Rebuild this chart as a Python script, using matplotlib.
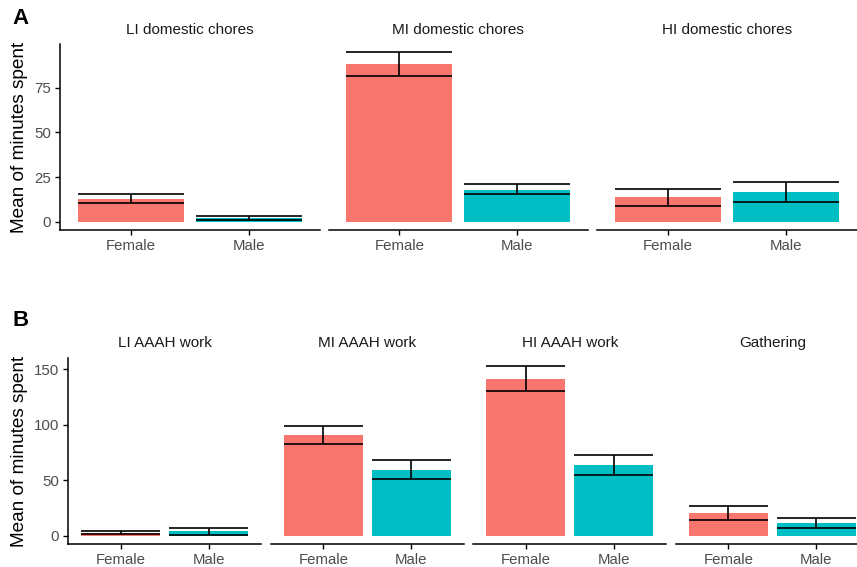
import matplotlib
matplotlib.use("Agg")
import matplotlib.pyplot as plt

plt.rcParams['font.family'] = ['Liberation Sans', 'DejaVu Sans']

sexes = ["Female", "Male"]
colors = ["#F8766D", "#00BFC4"]

# Panel A
a_titles = ["LI domestic chores", "MI domestic chores", "HI domestic chores"]
a_mean = [[12.9, 2.0], [88.2, 17.9], [13.6, 16.4]]
a_low = [[10.6, 0.8], [81.7, 15.5], [9.0, 11.0]]
a_high = [[15.7, 3.0], [94.9, 21.0], [18.2, 22.0]]
a_ticks = [0, 25, 50, 75]

# Panel B
b_titles = ["LI AAAH work", "MI AAAH work", "HI AAAH work", "Gathering"]
b_mean = [[2.5, 3.9], [90.7, 59.3], [141.1, 63.8], [20.3, 11.3]]
b_low = [[1.0, 0.9], [82.6, 50.9], [129.9, 54.8], [14.4, 6.8]]
b_high = [[4.0, 7.2], [98.8, 67.7], [152.4, 73.0], [26.3, 15.8]]
b_ticks = [0, 50, 100, 150]

W, H = 857, 567
fig = plt.figure(figsize=(W / 100, H / 100), dpi=100)

def px_axes(x0, y_top, w, h):
    return fig.add_axes([x0 / W, 1 - (y_top + h) / H, w / W, h / H])

def draw_row(titles, means, lows, highs, ticks, lefts, pw, top, bottom, title_y):
    ymax = max(max(h) for h in highs)
    pad = 0.05 * ymax
    for i, (t, m, lo, hi) in enumerate(zip(titles, means, lows, highs)):
        ax = px_axes(lefts[i], top, pw, bottom - top)
        xs = list(range(len(sexes)))
        ax.bar(xs, m, width=0.9, color=colors, zorder=1)
        for x, l, h in zip(xs, lo, hi):
            ax.hlines([l, h], x - 0.45, x + 0.45, color="black", lw=1.2, zorder=3)
            ax.vlines(x, l, h, color="black", lw=1.2, zorder=3)
        ax.set_xlim(-0.6, 1.6)
        ax.set_ylim(-pad, ymax + pad)
        ax.set_xticks(xs)
        ax.set_xticklabels(sexes)
        for s in ["top", "right"]:
            ax.spines[s].set_visible(False)
        ax.spines["bottom"].set_linewidth(1.1)
        ax.spines["left"].set_linewidth(1.1)
        ax.tick_params(axis="both", length=3.5, width=1.0, colors="black",
                       labelcolor="#4D4D4D", labelsize=10.8, pad=3)
        if i == 0:
            ax.set_yticks(ticks)
        else:
            ax.spines["left"].set_visible(False)
            ax.set_yticks([])
        fig.text((lefts[i] + pw / 2) / W, 1 - title_y / H, t, ha="center",
                 va="center", fontsize=11, color="#1A1A1A")

draw_row(a_titles, a_mean, a_low, a_high, a_ticks,
         [60, 328.5, 597], 259.6, 44, 230, 30)
draw_row(b_titles, b_mean, b_low, b_high, b_ticks,
         [68.3, 270.8, 473.3, 675.8], 193, 358, 544, 343)

fig.text(20 / W, 1 - 137 / H, "Mean of minutes spent", rotation=90,
         ha="center", va="center", fontsize=13.7)
fig.text(20 / W, 1 - 451 / H, "Mean of minutes spent", rotation=90,
         ha="center", va="center", fontsize=13.7)
fig.text(12 / W, 1 - 19 / H, "A", fontsize=16, fontweight="bold",
         ha="left", va="center")
fig.text(12 / W, 1 - 320 / H, "B", fontsize=16, fontweight="bold",
         ha="left", va="center")

fig.savefig("out.png", dpi=100)
